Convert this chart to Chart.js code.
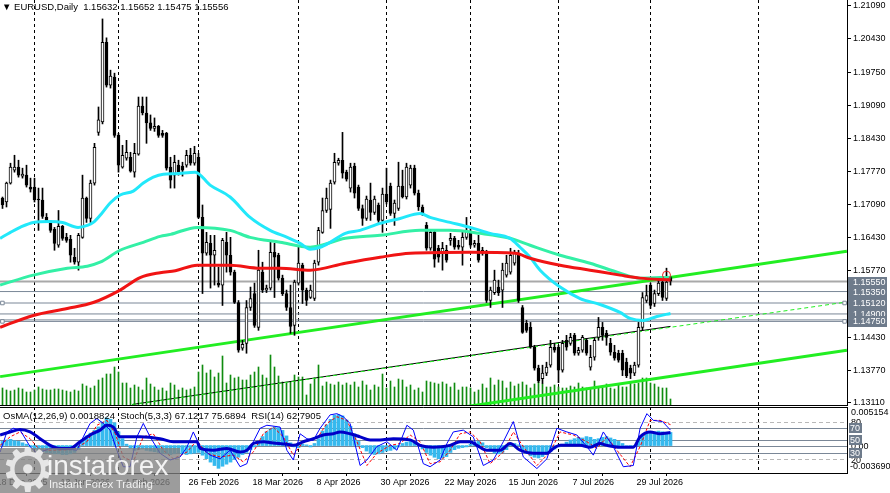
<!DOCTYPE html>
<html lang="en">
<head>
<meta charset="UTF-8">
<title>EURUSD, Daily</title>
<script src="https://cdn.jsdelivr.net/npm/chart.js"></script>
<style>
    body {
        margin: 0;
        background: #fff;
        width: 890px;
        height: 493px;
        overflow: hidden;
        position: relative;
        font-family: "Liberation Sans", Arial, sans-serif;
    }
    #mainBox { position: absolute; left: 0; top: 0; width: 890px; height: 406px; }
    #subBox { position: absolute; left: 0; top: 406px; width: 890px; height: 87px; }
    .hdr { position: absolute; font-size: 9.5px; line-height: 11px; color: #000; white-space: pre; }
    #wm {
        position: absolute; left: 0; top: 448px; width: 180px; height: 45px;
        background: rgba(128, 128, 128, 0.78); overflow: hidden;
    }
    #wm .gear { position: absolute; left: 0; top: -14px; font-size: 62px; line-height: 72px; color: #e6e6e6; font-family: "DejaVu Sans", sans-serif; }
    #wm .brand { position: absolute; left: 47px; top: 3px; font-size: 28px; line-height: 30px; color: rgba(255,255,255,0.88); }
    #wm .slogan { position: absolute; left: 49px; top: 30px; font-size: 11px; line-height: 12px; color: rgba(255,255,255,0.85); }
</style>
</head>
<body>
<div id="mainBox"><canvas id="mainChart"></canvas></div>
<div id="subBox"><canvas id="subChart"></canvas></div>
<div class="hdr" style="left:2px; top:1px;">▼ EURUSD,Daily  1.15632 1.15652 1.15475 1.15556</div>
<div class="hdr" style="left:3px; top:410px;">OsMA(12,26,9) 0.0018824  Stoch(5,3,3) 67.1217 75.6894  RSI(14) 62.7905</div>
<div id="wm"><span class="gear">⚙</span><span class="brand">instaforex</span><span class="slogan">Instant Forex Trading</span></div>

<script>
    // daily candles, bar 0 .. 167 (last bar = current day)
    const openP = [
        1.1723,1.1715,1.1753,1.1779,1.1785,1.1767,1.1769,1.1745,1.1745,1.1721,
        1.1719,1.1684,1.1672,1.1660,1.1628,1.1666,1.1644,1.1640,1.1604,1.1594,
        1.1644,1.1723,1.1682,1.1753,1.1855,1.1876,1.2036,1.1950,1.1966,1.1849,
        1.1785,1.1803,1.1805,1.1775,1.1811,1.1908,1.1894,1.1874,1.1863,1.1867,
        1.1853,1.1853,1.1785,1.1769,1.1789,1.1787,1.1789,1.1809,1.1793,1.1805,
        1.1684,1.1612,1.1632,1.1608,1.1552,1.1548,1.1634,1.1608,1.1574,1.1513,
        1.1421,1.1431,1.1503,1.1531,1.1463,1.1574,1.1538,1.1542,1.1614,1.1608,
        1.1562,1.1531,1.1503,1.1467,1.1552,1.1588,1.1538,1.1523,1.1521,1.1594,
        1.1654,1.1698,1.1700,1.1755,1.1793,1.1799,1.1775,1.1743,1.1787,1.1745,
        1.1702,1.1682,1.1719,1.1694,1.1709,1.1678,1.1731,1.1747,1.1692,1.1702,
        1.1747,1.1725,1.1749,1.1783,1.1733,1.1705,1.1668,1.1622,1.1654,1.1622,
        1.1614,1.1618,1.1638,1.1642,1.1628,1.1624,1.1644,1.1654,1.1628,1.1632,
        1.1612,1.1614,1.1517,1.1533,1.1544,1.1538,1.1568,1.1574,1.1592,1.1612,
        1.1503,1.1471,1.1463,1.1423,1.1381,1.1360,1.1371,1.1387,1.1423,1.1423,
        1.1377,1.1437,1.1431,1.1447,1.1411,1.1417,1.1437,1.1383,1.1403,1.1443,
        1.1463,1.1451,1.1431,1.1413,1.1411,1.1411,1.1393,1.1381,1.1371,1.1387,
        1.1463,1.1517,1.1548,1.1511,1.1531,1.1554,1.1521,1.1563
    ];
    const highP = [
        1.1725,1.1755,1.1793,1.1809,1.1799,1.1783,1.1789,1.1763,1.1763,1.1743,
        1.1743,1.1692,1.1678,1.1664,1.1698,1.1668,1.1652,1.1648,1.1622,1.1652,
        1.1769,1.1725,1.1759,1.1833,1.1906,1.2083,1.2045,1.1980,1.1974,1.1853,
        1.1829,1.1839,1.1815,1.1833,1.1926,1.1926,1.1926,1.1890,1.1884,1.1869,
        1.1859,1.1855,1.1805,1.1809,1.1799,1.1795,1.1819,1.1823,1.1827,1.1813,
        1.1709,1.1654,1.1648,1.1648,1.1584,1.1642,1.1654,1.1644,1.1578,1.1517,
        1.1437,1.1517,1.1544,1.1552,1.1618,1.1594,1.1548,1.1634,1.1632,1.1612,
        1.1568,1.1538,1.1548,1.1558,1.1624,1.1592,1.1542,1.1548,1.1598,1.1664,
        1.1723,1.1743,1.1759,1.1813,1.1803,1.1855,1.1779,1.1793,1.1793,1.1749,
        1.1709,1.1727,1.1753,1.1727,1.1713,1.1743,1.1783,1.1753,1.1719,1.1795,
        1.1779,1.1793,1.1789,1.1789,1.1739,1.1709,1.1674,1.1658,1.1658,1.1628,
        1.1634,1.1628,1.1652,1.1646,1.1638,1.1654,1.1684,1.1662,1.1638,1.1648,
        1.1624,1.1618,1.1544,1.1578,1.1558,1.1592,1.1608,1.1622,1.1618,1.1618,
        1.1507,1.1477,1.1473,1.1427,1.1387,1.1387,1.1393,1.1437,1.1431,1.1427,
        1.1437,1.1447,1.1451,1.1451,1.1423,1.1447,1.1441,1.1427,1.1441,1.1483,
        1.1473,1.1457,1.1441,1.1427,1.1417,1.1417,1.1401,1.1387,1.1393,1.1473,
        1.1533,1.1548,1.1552,1.1538,1.1558,1.1562,1.1582,1.1565
    ];
    const lowP = [
        1.1702,1.1705,1.1751,1.1775,1.1765,1.1763,1.1745,1.1735,1.1715,1.1658,
        1.1682,1.1674,1.1654,1.1618,1.1624,1.1638,1.1634,1.1594,1.1590,1.1578,
        1.1642,1.1674,1.1674,1.1749,1.1849,1.1872,1.1946,1.1944,1.1845,1.1775,
        1.1783,1.1799,1.1775,1.1765,1.1809,1.1890,1.1833,1.1859,1.1857,1.1845,
        1.1845,1.1779,1.1743,1.1743,1.1769,1.1767,1.1785,1.1789,1.1789,1.1682,
        1.1531,1.1608,1.1542,1.1548,1.1544,1.1507,1.1574,1.1568,1.1511,1.1413,
        1.1417,1.1411,1.1497,1.1463,1.1457,1.1533,1.1533,1.1538,1.1523,1.1558,
        1.1527,1.1497,1.1451,1.1447,1.1548,1.1511,1.1507,1.1521,1.1517,1.1588,
        1.1652,1.1694,1.1662,1.1751,1.1789,1.1763,1.1757,1.1735,1.1723,1.1698,
        1.1668,1.1678,1.1678,1.1690,1.1674,1.1654,1.1711,1.1688,1.1668,1.1698,
        1.1723,1.1721,1.1743,1.1729,1.1698,1.1688,1.1618,1.1618,1.1584,1.1594,
        1.1578,1.1594,1.1628,1.1620,1.1620,1.1588,1.1640,1.1624,1.1624,1.1594,
        1.1608,1.1513,1.1503,1.1529,1.1527,1.1503,1.1564,1.1570,1.1588,1.1513,
        1.1451,1.1453,1.1421,1.1377,1.1352,1.1350,1.1366,1.1383,1.1413,1.1352,
        1.1373,1.1417,1.1427,1.1407,1.1407,1.1413,1.1407,1.1377,1.1397,1.1437,
        1.1437,1.1427,1.1407,1.1397,1.1393,1.1366,1.1362,1.1360,1.1366,1.1383,
        1.1457,1.1513,1.1501,1.1505,1.1527,1.1517,1.1517,1.1548
    ];
    const closeP = [
        1.1709,1.1753,1.1785,1.1785,1.1769,1.1771,1.1749,1.1741,1.1719,1.1719,
        1.1686,1.1678,1.1658,1.1632,1.1666,1.1642,1.1638,1.1608,1.1594,1.1648,
        1.1723,1.1682,1.1753,1.1825,1.1880,1.2036,1.1950,1.1968,1.1849,1.1789,
        1.1809,1.1815,1.1777,1.1813,1.1908,1.1894,1.1874,1.1863,1.1867,1.1849,
        1.1849,1.1783,1.1759,1.1795,1.1775,1.1779,1.1809,1.1793,1.1813,1.1684,
        1.1612,1.1634,1.1608,1.1618,1.1548,1.1638,1.1608,1.1574,1.1513,1.1417,
        1.1429,1.1503,1.1521,1.1467,1.1578,1.1538,1.1542,1.1614,1.1604,1.1562,
        1.1531,1.1503,1.1465,1.1554,1.1592,1.1538,1.1517,1.1538,1.1592,1.1658,
        1.1698,1.1723,1.1753,1.1795,1.1799,1.1773,1.1761,1.1785,1.1733,1.1702,
        1.1682,1.1721,1.1694,1.1721,1.1678,1.1731,1.1715,1.1692,1.1713,1.1747,
        1.1725,1.1785,1.1783,1.1733,1.1705,1.1692,1.1622,1.1654,1.1600,1.1604,
        1.1622,1.1598,1.1642,1.1624,1.1624,1.1644,1.1658,1.1628,1.1632,1.1598,
        1.1618,1.1517,1.1538,1.1558,1.1533,1.1578,1.1592,1.1608,1.1612,1.1517,
        1.1453,1.1457,1.1423,1.1381,1.1356,1.1371,1.1383,1.1423,1.1417,1.1377,
        1.1431,1.1423,1.1443,1.1411,1.1417,1.1443,1.1411,1.1403,1.1437,1.1463,
        1.1447,1.1443,1.1413,1.1401,1.1397,1.1377,1.1366,1.1371,1.1387,1.1463,
        1.1523,1.1527,1.1507,1.1531,1.1552,1.1523,1.1554,1.1556
    ];
    // tick volume (thousands)
    const volumes = [
        68,60,56,60,68,64,52,52,60,72,64,60,60,64,64,60,56,52,60,56,
        84,76,68,76,100,108,124,124,152,132,
        88,88,68,80,72,60,108,84,72,60,68,56,88,80,60,68,60,64,72,
        132,160,128,140,112,128,196,88,120,108,112,100,100,120,132,152,120,108,
        200,152,116,92,88,92,120,112,112,40,84,108,160,76,92,84,80,92,
        80,88,80,92,72,96,80,60,80,72,
        124,68,96,72,104,100,72,80,60,68,
        52,96,92,88,84,92,84,72,88,60,
        72,72,68,52,60,84,68,108,80,100,
        96,68,92,76,84,92,80,68,84,100,
        84,72,72,80,72,68,68,76,72,88,
        72,68,68,96,72,68,84,68,64,80,
        72,72,92,84,88,108,108,88,84,72,
        68,68,24
    ];
    const osma = [
        0.0006,0.0008,0.0009,0.0007,0.0006,0.0004,0.0002,
        -0.0002,-0.0005,-0.0007,-0.0009,-0.0010,-0.0011,-0.0012,-0.0012,-0.0013,-0.0013,-0.0012,-0.0010,-0.0006,
        0.0008,0.0014,0.0018,0.0022,0.0027,0.0034,0.0040,0.0038,0.0033,0.0020,
        0.0010,0.0002,
        -0.0004,-0.0007,-0.0006,-0.0005,-0.0007,-0.0008,-0.0009,-0.0010,-0.0011,-0.0012,-0.0013,-0.0012,-0.0011,
        -0.0012,-0.0013,-0.0012,-0.0011,-0.0010,
        -0.0014,-0.0019,-0.0024,-0.0029,-0.0033,-0.0030,-0.0027,
        -0.0024,-0.0020,-0.0017,-0.0013,-0.0010,-0.0006,-0.0002,
        0.0006,0.0013,0.0020,0.0025,0.0027,0.0026,0.0022,0.0014,
        0.0004,-0.0002,-0.0003,0.0002,0.0001,-0.0002,0.0003,0.0010,
        0.0021,0.0030,0.0038,0.0044,0.0045,0.0043,0.0037,0.0028,0.0017,
        0.0006,-0.0003,-0.0008,-0.0011,-0.0013,-0.0012,-0.0010,-0.0008,-0.0007,-0.0005,-0.0002,
        0.0003,0.0005,0.0006,0.0004,0.0001,
        -0.0005,-0.0010,-0.0014,-0.0017,-0.0019,-0.0018,-0.0016,
        -0.0010,-0.0006,-0.0004,-0.0003,-0.0002,
        0.0002,0.0005,0.0006,0.0004,
        -0.0003,-0.0008,-0.0011,-0.0012,-0.0010,-0.0006,
        0.0001,0.0003,0.0001,
        -0.0006,-0.0011,-0.0015,-0.0017,-0.0018,-0.0016,-0.0013,-0.0009,-0.0005,
        -0.0002,0.0002,0.0005,
        0.0008,0.0010,0.0012,0.0011,0.0013,0.0012,0.0009,0.0010,0.0012,0.0013,0.0011,0.0009,0.0006,0.0003,
        0.0000,-0.0002,-0.0001,
        0.0008,0.0014,0.0018,0.0019,0.0020,0.0021,0.0020,0.0019,0.0019
    ];

    // moving averages read as [bar, price]
    const maCyan = [[-0.6,1.1642],[2,1.1654],[4.4,1.1664],[7.7,1.1674],[11.9,1.1676],[15,1.1674],[18.9,1.1664],[21.2,1.1668],[22.7,1.1674],[24.8,1.1692],[26.9,1.1713],[29.4,1.1729],[32.7,1.1737],[35.2,1.1753],[37.7,1.1765],[40.2,1.1771],[43.2,1.1772],[48.2,1.1775],[51.9,1.1749],[56.9,1.1725],[61.9,1.1684],[66.9,1.1658],[71.2,1.1644],[74.4,1.1632],[76.9,1.1620],[79.4,1.1624],[81.9,1.1634],[85.7,1.1652],[89.4,1.1658],[94.4,1.1672],[99.4,1.1682],[104.4,1.1692],[106.9,1.1684],[111.9,1.1674],[116.9,1.1664],[121.9,1.1652],[126.9,1.1642],[129.4,1.1624],[131.9,1.1604],[134.4,1.1578],[139.4,1.1544],[144.4,1.1521],[149.4,1.1509],[154.4,1.1493],[156.9,1.1481],[160.2,1.1477],[163.6,1.1485],[167,1.1491]];
    const maTeal = [[-0.6,1.1548],[7.7,1.1568],[16.2,1.1582],[21.2,1.1586],[24.4,1.1594],[29.4,1.1618],[35.2,1.1634],[39.4,1.1646],[42,1.1650],[48.7,1.1664],[56.9,1.1658],[61.9,1.1644],[69.4,1.1634],[76.9,1.1624],[85.7,1.1642],[94.4,1.1648],[104.4,1.1658],[111.9,1.1658],[119.4,1.1652],[126.9,1.1642],[131.9,1.1628],[139.4,1.1608],[146.9,1.1592],[154.4,1.1572],[159.4,1.1562],[167,1.1564]];
    const maRed = [[-0.6,1.1463],[7.7,1.1487],[16.2,1.1501],[22.7,1.1513],[29.4,1.1538],[34.4,1.1563],[39.4,1.1573],[43.2,1.1577],[48.7,1.1588],[56.9,1.1588],[64.4,1.1582],[69.4,1.1582],[76.9,1.1578],[85.7,1.1592],[94.4,1.1604],[101.9,1.1612],[116.9,1.1614],[128.2,1.1612],[131.9,1.1602],[139.4,1.1588],[146.9,1.1578],[154.4,1.1568],[159.4,1.1562],[167,1.1558]];

    // trend lines [bar, price]
    const channelUpper = [[-0.6,1.1364],[211.1,1.1616]];
    const channelLower = [[116.2,1.1304],[211.1,1.1417]];
    const supportLine = [[32.4,1.1308],[167,1.1465]];
    const supportExt = [[32.4,1.1308],[210.2,1.1513]];

    // horizontal levels
    const levelPrices = [1.1555, 1.1535, 1.1512, 1.1490, 1.1478, 1.1475];
    const levelLabels = [1.15550, 1.15350, 1.15120, 1.14900, 1.14750];
    const anchorLevels = [1.1512, 1.1475];
    const alertBar = [166];
    const alertPrice = [1.1568];

    const priceTicks = [1.21090,1.20430,1.19750,1.19090,1.18430,1.17770,1.17090,1.16430,1.15770,1.15110,1.14430,1.13770,1.13110];
    const monthStartBars = [8, 29, 49, 74, 96, 117, 139, 162, 189];
    const labelBars = [-2, 14, 30, 46, 62, 78, 94, 110, 126, 142, 158];
    const dateLabels = ['18 Dec 2025','13 Jan 2026','4 Feb 2026','26 Feb 2026','18 Mar 2026','8 Apr 2026','30 Apr 2026','22 May 2026','15 Jun 2026','7 Jul 2026','29 Jul 2026'];

    // indicator lines [bar, value]
    const rsi = [[-0.6,59],[1.9,64],[4.4,68],[6.9,64],[9.4,53],[11.9,42],[14.4,37],[16.9,37],[19.4,48],[21.9,59],[24.4,67],[26.1,75],[27.7,72],[29.4,56],[31.1,56],[34.4,56],[39.4,53],[42.7,48],[46.1,48],[48.6,48],[49.4,37],[52.7,34],[56.1,37],[59.4,31],[61.1,34],[62.7,45],[65.2,48],[67.7,46],[71.1,44],[72.7,42],[75.2,48],[77.7,53],[80.2,59],[82.7,61],[84.4,64],[86.9,61],[89.4,56],[91.9,51],[94.4,51],[97.7,53],[101.9,51],[104.4,42],[107.7,39],[111.9,42],[114.4,48],[116.9,48],[118.6,42],[121.1,34],[124.4,34],[126.9,45],[129.4,34],[132.7,29],[136.1,29],[137.7,37],[139.4,42],[144.4,42],[146.9,39],[149.4,45],[151.1,42],[154.4,39],[157.7,39],[159.4,56],[161.9,64],[164.4,61],[167,63]];
    const stochMain = [[-0.6,31],[1.1,64],[2.7,70],[4.4,67],[6.9,40],[8.6,29],[11.9,37],[15.2,37],[18.6,34],[20.2,56],[21.9,78],[23.6,86],[25.2,78],[26.9,67],[28.6,34],[30.2,7],[31.9,7],[33.6,56],[35.2,78],[36.9,56],[39.4,29],[41.9,18],[44.4,23],[46.1,39],[47.7,64],[49.4,40],[51.9,26],[54.4,20],[56.9,34],[59.4,7],[61.1,12],[62.7,48],[64.4,70],[66.1,75],[69.4,72],[71.1,34],[72.7,18],[74.4,61],[76.1,53],[77.7,50],[79.4,70],[81.9,92],[83.6,94],[85.2,89],[86.9,78],[89.4,9],[91.1,18],[93.6,40],[96.1,48],[98.6,34],[101.1,75],[102.7,67],[105.2,12],[106.9,7],[109.4,18],[111.1,45],[112.7,64],[115.2,67],[117.7,56],[120.2,9],[122.7,18],[125.2,48],[127.7,81],[130.2,23],[133.6,4],[136.1,20],[138.6,70],[141.1,64],[143.6,59],[146.1,40],[147.7,26],[150.2,64],[152.7,40],[155.2,7],[157.7,9],[159.4,70],[161.1,94],[162.7,83],[165,81],[167,67]];
    const stochSignal = [[-0.6,42],[1.9,56],[4.4,64],[6.9,53],[9.4,34],[12.7,34],[17.7,35],[21.1,48],[23.6,75],[26.1,83],[28.2,61],[30.2,23],[32.7,15],[35.2,56],[37.7,61],[40.2,34],[42.7,20],[46.1,31],[48.6,50],[51.1,29],[54.4,23],[57.7,26],[60.2,15],[62.7,31],[65.2,61],[67.7,72],[70.2,56],[72.7,26],[75.2,48],[78.6,53],[81.1,78],[83.6,89],[86.1,83],[88.6,48],[91.1,9],[93.6,29],[96.9,42],[99.4,45],[101.9,59],[104.4,48],[106.9,12],[109.4,15],[111.9,34],[114.4,61],[116.9,64],[119.4,48],[121.9,12],[125.2,31],[127.7,64],[130.2,40],[133.6,9],[136.9,31],[139.4,64],[142.7,59],[146.1,48],[148.6,37],[151.1,56],[153.6,34],[156.9,7],[159.4,40],[161.9,83],[164.4,83],[167,76]];
    const oscLevels = [80, 70, 50, 30, 20];

    // visible range of the window (bars)
    const xMin = -0.625, xMax = 211.125;

    Chart.defaults.font.family = '"Liberation Sans", Arial, sans-serif';
    Chart.defaults.font.size = 9;
    Chart.defaults.color = '#000';

    const xy = arr => arr.map(p => ({ x: p[0], y: p[1] }));
    const hLine = (p) => [{ x: xMin, y: p }, { x: xMax, y: p }];
    const slate = '#7a8797';
    const boxGray = '#6e7b8b';

    const lineDs = (data, color, width, order, extra) => Object.assign({
        type: 'line', data: data, borderColor: color, borderWidth: width,
        pointRadius: 0, fill: false, order: order, xAxisID: 'x', yAxisID: 'y'
    }, extra || {});

    const mainSets = [
        { type: 'bar', data: volumes.map((v, i) => ({ x: i, y: v })), yAxisID: 'yv', xAxisID: 'x',
          backgroundColor: '#108c10', barThickness: 1, grouped: false, order: 20 }
    ];
    levelPrices.forEach((p, k) => {
        mainSets.push(lineDs(hLine(p), k === 0 ? '#a9a9a9' : slate, k === 0 ? 2 : 1, 15));
    });
    mainSets.push(lineDs(xy(channelUpper), '#22ee22', 3, 12));
    mainSets.push(lineDs(xy(channelLower), '#22ee22', 3, 12));
    mainSets.push(lineDs(xy(supportLine), '#000', 1, 13));
    mainSets.push(lineDs(xy(supportExt), '#22ee22', 1, 12, { borderDash: [4, 3] }));
    mainSets.push({ type: 'bar', data: lowP.map((l, i) => ({ x: i, y: [l, highP[i]] })), xAxisID: 'x', yAxisID: 'y',
        backgroundColor: '#000', barThickness: 1, grouped: false, order: 9 });
    mainSets.push({ type: 'bar', data: openP.map((o, i) => ({ x: i, y: [o, closeP[i]] })), xAxisID: 'x', yAxisID: 'y',
        backgroundColor: ctx => closeP[ctx.dataIndex] >= openP[ctx.dataIndex] ? '#fff' : '#000',
        borderColor: '#000', borderWidth: 1, borderSkipped: false, barThickness: 3, grouped: false, order: 8 });
    mainSets.push(lineDs(xy(maTeal), '#33f0a6', 3, 6, { cubicInterpolationMode: 'monotone' }));
    mainSets.push(lineDs(xy(maCyan), '#22e8fa', 3, 5, { cubicInterpolationMode: 'monotone' }));
    mainSets.push(lineDs(xy(maRed), '#f01414', 3, 4, { cubicInterpolationMode: 'monotone' }));
    mainSets.push(lineDs(anchorLevels.flatMap(p => [{ x: xMin + 0.6, y: p }, { x: xMax - 0.6, y: p }]), slate, 1, 3,
        { showLine: false, pointRadius: 2.5, pointStyle: 'rect', pointBackgroundColor: '#fff', pointBorderColor: slate }));
    mainSets.push(lineDs(alertBar.map((b, k) => ({ x: b, y: alertPrice[k] })), '#e82020', 1, 1,
        { showLine: false, pointRadius: 4, pointBackgroundColor: 'rgba(0,0,0,0)', pointBorderColor: '#e82020' }));

    const mainDecor = {
        id: 'mainDecor',
        afterDraw(chart) {
            const { ctx, chartArea: a, scales: { y } } = chart;
            ctx.save();
            ctx.strokeStyle = '#000';
            ctx.lineWidth = 1;
            const by = Math.round(a.bottom) + 0.5;
            ctx.beginPath(); ctx.moveTo(0, by); ctx.lineTo(Math.round(a.right) + 0.5, by); ctx.stroke();
            ctx.font = '9px "Liberation Sans", Arial, sans-serif';
            ctx.textBaseline = 'middle';
            ctx.textAlign = 'left';
            levelLabels.forEach(p => {
                const py = Math.round(y.getPixelForValue(p));
                ctx.fillStyle = boxGray;
                ctx.fillRect(Math.round(a.right) + 1, py - 5, 39, 11);
                ctx.fillStyle = '#fff';
                ctx.fillText(p.toFixed(5), Math.round(a.right) + 6, py + 1);
            });
            ctx.restore();
        }
    };

    new Chart(document.getElementById('mainChart'), {
        type: 'line',
        data: { datasets: mainSets },
        options: {
            responsive: true, maintainAspectRatio: false, animation: false,
            layout: { padding: 0, autoPadding: false },
            plugins: { legend: { display: false }, tooltip: { enabled: false } },
            scales: {
                x: {
                    type: 'linear', min: xMin, max: xMax, offset: false,
                    afterBuildTicks: s => { s.ticks = monthStartBars.map(v => ({ value: v })); },
                    afterFit: s => { s.height = 1; s.paddingLeft = 0; s.paddingRight = 0; },
                    ticks: { display: false },
                    grid: { color: '#000', lineWidth: 1, drawTicks: false, offset: false },
                    border: { display: false, dash: [3, 3] }
                },
                y: {
                    type: 'linear', position: 'right',
                    min: 1.2109 - 399 * 0.00020101, max: 1.2109 + 6 * 0.00020101,
                    afterBuildTicks: s => { s.ticks = priceTicks.map(v => ({ value: v })); },
                    afterFit: s => { s.width = 43; s.paddingTop = 0; s.paddingBottom = 0; },
                    ticks: { autoSkip: false, padding: 2, color: '#000', callback: v => v.toFixed(5) },
                    grid: { drawOnChartArea: false, drawTicks: true, tickLength: 4, color: '#000' },
                    border: { display: true, color: '#000', width: 1 }
                },
                yv: { type: 'linear', display: false, min: 0, max: 1620 }
            }
        },
        plugins: [mainDecor]
    });

    // indicator window
    const subDecor = {
        id: 'subDecor',
        beforeDatasetsDraw(chart) {
            const { ctx, chartArea: a, scales: { yr, yo } } = chart;
            ctx.save();
            ctx.lineWidth = 1;
            const line = (py, color, dash) => {
                ctx.strokeStyle = color; ctx.setLineDash(dash);
                const yy = Math.round(py) + 0.5;
                ctx.beginPath(); ctx.moveTo(a.left, yy); ctx.lineTo(a.right, yy); ctx.stroke();
            };
            oscLevels.forEach(v => {
                const dashed = v === 80 || v === 20;
                line(yr.getPixelForValue(v), dashed ? '#b8b8b8' : slate, dashed ? [4, 3] : []);
            });
            line(yo.getPixelForValue(0), slate, []);
            ctx.restore();
        },
        afterDraw(chart) {
            const { ctx, chartArea: a, scales: { yr, yo } } = chart;
            const r = Math.round(a.right);
            ctx.save();
            ctx.strokeStyle = '#000'; ctx.lineWidth = 1;
            ctx.beginPath();
            ctx.moveTo(0, Math.round(a.top) + 0.5); ctx.lineTo(r + 0.5, Math.round(a.top) + 0.5);
            ctx.moveTo(r + 0.5, a.top); ctx.lineTo(r + 0.5, a.bottom);
            ctx.stroke();
            ctx.font = '9px "Liberation Sans", Arial, sans-serif';
            ctx.textBaseline = 'middle'; ctx.textAlign = 'left';
            ctx.fillStyle = '#000';
            ctx.fillText('0.005154', r + 4, yo.getPixelForValue(0.005154) + 3);
            ctx.fillText('-0.003690', r + 3, yo.getPixelForValue(-0.003690) - 4);
            ctx.fillText('0.00', r + 4, yo.getPixelForValue(0) + 1);
            ctx.fillText('80', r + 4, yr.getPixelForValue(80));
            ctx.fillText('20', r + 4, yr.getPixelForValue(20) + 2);
            [70, 50, 30].forEach(v => {
                const py = Math.round(yr.getPixelForValue(v));
                ctx.fillStyle = boxGray;
                ctx.fillRect(r + 2, py - 5, 13, 10);
                ctx.fillStyle = '#fff';
                ctx.fillText(String(v), r + 3, py + 0.5);
            });
            ctx.restore();
        }
    };

    new Chart(document.getElementById('subChart'), {
        type: 'line',
        data: {
            datasets: [
                { type: 'bar', data: osma.map((v, i) => ({ x: i, y: v })), xAxisID: 'x', yAxisID: 'yo',
                  backgroundColor: '#36b9ee', barThickness: 3, grouped: false, order: 10 },
                { type: 'line', data: xy(stochSignal), xAxisID: 'x', yAxisID: 'yr', borderColor: '#ff0000',
                  borderWidth: 1, borderDash: [3, 2], pointRadius: 0, order: 4 },
                { type: 'line', data: xy(stochMain), xAxisID: 'x', yAxisID: 'yr', borderColor: '#0000ff',
                  borderWidth: 1, pointRadius: 0, order: 3 },
                { type: 'line', data: xy(rsi), xAxisID: 'x', yAxisID: 'yr', borderColor: '#0000c8',
                  borderWidth: 3, pointRadius: 0, cubicInterpolationMode: 'monotone', order: 2 }
            ]
        },
        options: {
            responsive: true, maintainAspectRatio: false, animation: false,
            layout: { padding: { top: 1, right: 43, left: 0, bottom: 0 }, autoPadding: false },
            plugins: { legend: { display: false }, tooltip: { enabled: false } },
            scales: {
                x: {
                    type: 'linear', position: 'bottom', min: xMin, max: xMax, offset: false,
                    afterBuildTicks: s => { s.ticks = labelBars.map(v => ({ value: v })); },
                    afterFit: s => { s.height = 20; s.paddingLeft = 0; s.paddingRight = 0; },
                    ticks: { autoSkip: false, maxRotation: 0, align: 'start', labelOffset: 2, padding: 1,
                             color: '#000', callback: (v, i) => dateLabels[i] },
                    grid: { drawOnChartArea: false, drawTicks: true, tickLength: 3, color: '#000' },
                    border: { display: true, color: '#000' }
                },
                xg: {
                    type: 'linear', position: 'bottom', min: xMin, max: xMax, offset: false,
                    afterBuildTicks: s => { s.ticks = monthStartBars.map(v => ({ value: v })); },
                    afterFit: s => { s.height = 0; s.paddingLeft = 0; s.paddingRight = 0; },
                    ticks: { display: false },
                    grid: { color: '#000', drawTicks: false },
                    border: { display: false, dash: [3, 3] }
                },
                yr: { type: 'linear', display: false, min: -3.28, max: 104.9 },
                yo: { type: 'linear', display: false, min: -0.00398, max: 0.005589 }
            }
        },
        plugins: [subDecor]
    });
</script>
</body>
</html>
